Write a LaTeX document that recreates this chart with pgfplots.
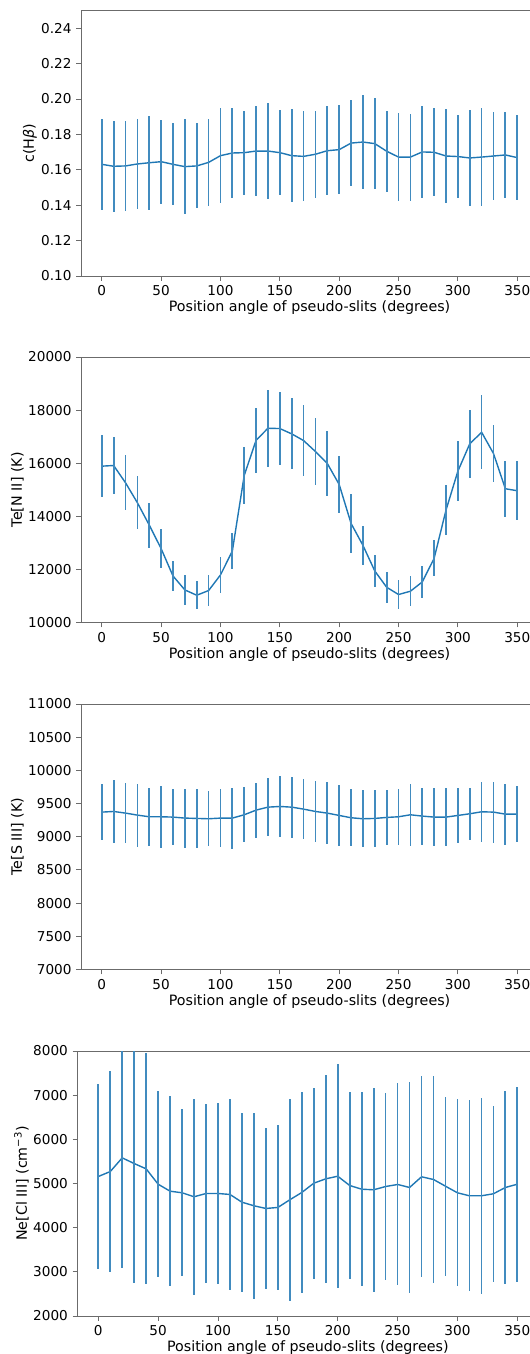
\documentclass[border=0pt]{standalone}
\usepackage{fontspec}
\setmainfont{DejaVu Sans}
\usepackage{pgfplots}
\usepackage{pgfplotstable}
\pgfplotsset{compat=1.18}
\definecolor{tabblue}{HTML}{1F77B4}
\definecolor{spine}{gray}{0.42}

\pgfplotstableread{
x y e
0 0.1631 0.0258
10 0.1620 0.0258
20 0.1622 0.0256
30 0.1633 0.0254
40 0.1640 0.0266
50 0.1646 0.0237
60 0.1631 0.0232
70 0.1618 0.0269
80 0.1622 0.0240
90 0.1642 0.0246
100 0.1680 0.0267
110 0.1695 0.0252
120 0.1697 0.0237
130 0.1706 0.0255
140 0.1706 0.0270
150 0.1697 0.0242
160 0.1680 0.0261
170 0.1676 0.0254
180 0.1688 0.0247
190 0.1708 0.0253
200 0.1714 0.0250
210 0.1751 0.0244
220 0.1757 0.0263
230 0.1748 0.0257
240 0.1705 0.0230
250 0.1672 0.0247
260 0.1672 0.0246
270 0.1701 0.0260
280 0.1699 0.0249
290 0.1678 0.0268
300 0.1675 0.0232
310 0.1667 0.0270
320 0.1672 0.0279
330 0.1678 0.0248
340 0.1684 0.0243
350 0.1669 0.0239
}\dataA

\pgfplotstableread{
x y e
0 15888 1165
10 15913 1090
20 15263 1040
30 14511 1003
40 13669 846
50 12782 745
60 11752 576
70 11226 564
80 11026 520
90 11203 576
100 11790 677
110 12692 670
120 15538 1065
130 16865 1222
140 17316 1447
150 17305 1366
160 17105 1341
170 16853 1322
180 16440 1247
190 15989 1241
200 15199 1059
210 13733 1109
220 12906 739
230 11940 589
240 11327 589
250 11053 533
260 11177 564
270 11526 614
280 12417 683
290 14233 934
300 15699 1140
310 16729 1284
320 17165 1397
330 16365 1078
340 15038 1046
350 14962 1103
}\dataB

\pgfplotstableread{
x y e
0 9371 424
10 9381 469
20 9356 454
30 9326 474
40 9301 436
50 9301 464
60 9296 421
70 9281 444
80 9276 449
90 9271 416
100 9281 434
110 9281 461
120 9331 416
130 9401 414
140 9446 439
150 9456 456
160 9446 459
170 9416 454
180 9381 464
190 9356 464
200 9321 466
210 9286 429
220 9271 431
230 9276 424
240 9291 409
250 9301 421
260 9331 469
270 9311 429
280 9296 441
290 9296 439
300 9321 416
310 9346 391
320 9376 456
330 9371 461
340 9341 459
350 9341 419
}\dataC

\pgfplotstableread{
x y e
0 5158 2103
10 5271 2276
20 5581 2495
30 5452 2698
40 5332 2615
50 4984 2107
60 4826 2152
70 4790 1888
80 4700 2220
90 4774 2020
100 4774 2046
110 4752 2156
120 4577 2024
130 4496 2110
140 4435 1820
150 4458 1877
160 4632 2284
170 4797 2265
180 5007 2163
190 5106 2359
200 5165 2540
210 4955 2121
220 4871 2197
230 4858 2314
240 4932 2118
250 4978 2287
260 4910 2382
270 5152 2272
280 5091 2344
290 4939 2024
300 4790 2114
310 4722 2163
320 4722 2216
330 4767 1994
340 4910 2193
350 4984 2209
}\dataD

\pgfplotsset{
 panel/.style={
  scale only axis, width=342.75pt, height=199.1pt, anchor=north west,
  xmin=-17.5, xmax=367.5, xtick={0,50,...,350},
  axis line style={spine, line width=0.7pt},
  tick style={spine, line width=0.7pt},
  major tick length=3.6pt,
  tick align=outside, xtick pos=bottom, ytick pos=left,
  minor tick num=0,
  ticklabel style={font=\fontsize{10.2}{12}\selectfont},
  label style={font=\fontsize{10.7}{13}\selectfont},
  xlabel={Position angle of pseudo-slits (degrees)},
  xlabel style={yshift=3pt},
  ylabel style={yshift=-3.6pt},
  /pgf/number format/assume math mode=true,
  /pgf/number format/1000 sep={},
  scaled ticks=false,
 },
 ebar/.style={draw=tabblue, line width=1.05pt, mark=none,
  error bars/y dir=both, error bars/y explicit, error bars/error mark=none,
  error bars/error bar style={draw=tabblue!85, line width=1.3pt}},
}

\begin{document}
\begin{tikzpicture}
\begin{axis}[panel, at={(60.75pt,-7.9pt)},
  ymin=0.10, ymax=0.25, ytick={0.10,0.12,0.14,0.16,0.18,0.20,0.22,0.24},
  yticklabel style={/pgf/number format/.cd, fixed, fixed zerofill, precision=2},
  ylabel={c(H\textit{β})}]
\addplot[ebar] table[x=x, y=y, y error=e] {\dataA};
\end{axis}

\begin{axis}[panel, at={(60.75pt,-267.75pt)},
  ymin=10000, ymax=20000, ytick={10000,12000,...,20000},
  ylabel={Te[N II] (K)}]
\addplot[ebar] table[x=x, y=y, y error=e] {\dataB};
\end{axis}

\begin{axis}[panel, at={(60.75pt,-528pt)},
  ymin=7000, ymax=11000, ytick={7000,7500,...,11000},
  ylabel={Te[S III] (K)}]
\addplot[ebar] table[x=x, y=y, y error=e] {\dataC};
\end{axis}

\begin{axis}[panel, at={(58pt,-788.25pt)}, width=345.7pt, height=198.75pt,
  ymin=2000, ymax=8000, ytick={2000,3000,...,8000},
  ylabel={Ne[Cl III] (cm\textsuperscript{−3})}]
\addplot[ebar] table[x=x, y=y, y error=e] {\dataD};
\end{axis}

\pgfresetboundingbox
\useasboundingbox (0,0) rectangle (397.5pt,-1015.5pt);
\end{tikzpicture}
\end{document}
